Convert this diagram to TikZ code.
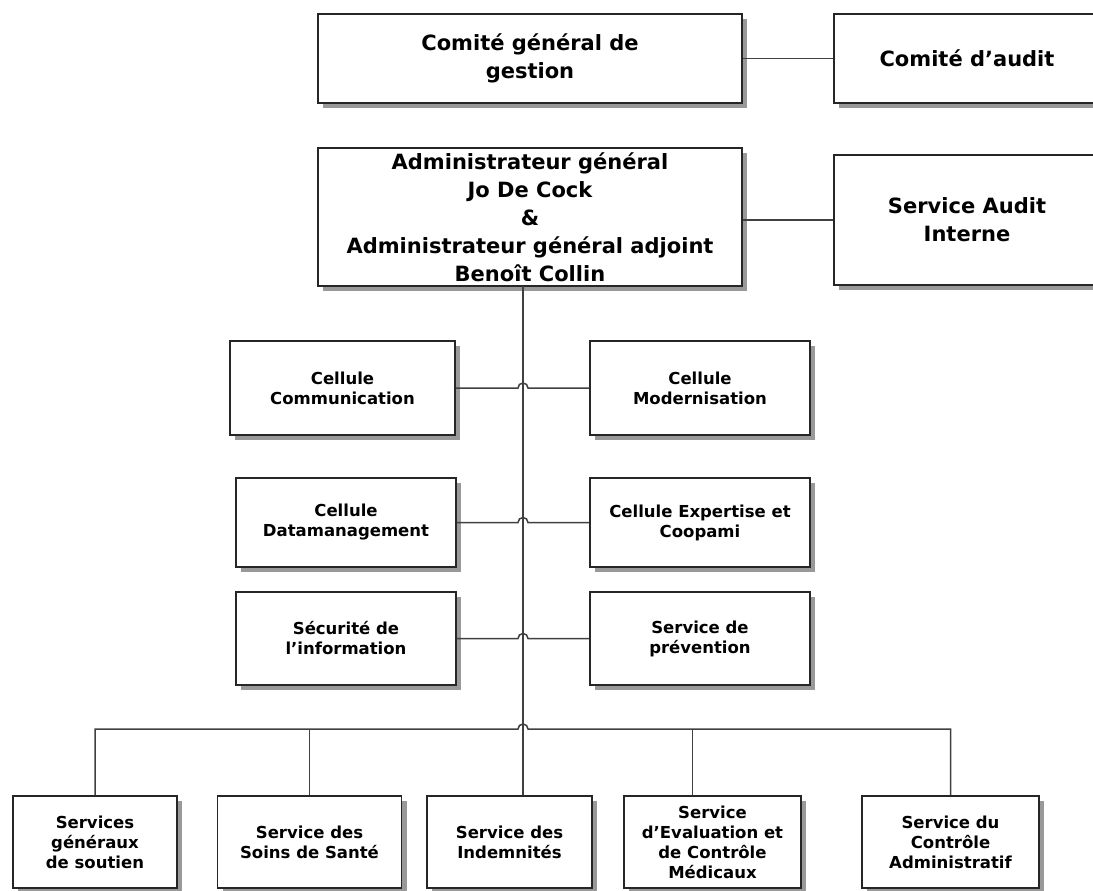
\documentclass[tikz,border=0pt]{standalone}
\usepackage{fontspec}
\setmainfont{DejaVu Sans}
\usetikzlibrary{shadows}
\begin{document}
\begin{tikzpicture}[x=1pt,y=1pt,
        box/.style={draw=black!85,line width=1.6pt,fill=white,align=center,inner sep=2pt,
            drop shadow={shadow xshift=5pt,shadow yshift=-5pt,fill=black!40,opacity=1}},
        big/.style={box,font=\bfseries\fontsize{21}{28}\selectfont},
        small/.style={box,font=\bfseries\fontsize{16.5}{20}\selectfont},
        link/.style={draw=black!75,line width=1.5pt}]
    \useasboundingbox (0,0) rectangle (1093,-891);
    % direction
    \node[big,minimum width=424,minimum height=89] (gestion) at (530,-58.5) {Comité général de\\gestion};
    \node[big,minimum width=266,minimum height=89] (audit) at (967,-58.5) {Comité d’audit};
    \node[big,minimum width=424,minimum height=138] (admin) at (530,-217)
        {Administrateur général\\Jo De Cock\\\&\\Administrateur général adjoint\\Benoît Collin};
    \node[big,minimum width=266,minimum height=130] (sai) at (967,-220) {Service Audit\\Interne};
    % cellules
    \node[small,minimum width=225,minimum height=94] (comm) at (342.5,-388) {Cellule\\Communication};
    \node[small,minimum width=220,minimum height=94] (modern) at (700,-388) {Cellule\\Modernisation};
    \node[small,minimum width=220,minimum height=89] (datam) at (346,-522.5) {Cellule\\Datamanagement};
    \node[small,minimum width=220,minimum height=89] (coopami) at (700,-522.5) {Cellule Expertise et\\Coopami};
    \node[small,minimum width=220,minimum height=93] (secu) at (346,-638.5) {Sécurité de\\l’information};
    \node[small,minimum width=220,minimum height=93] (prev) at (700,-638.5) {Service de\\prévention};
    % services
    \node[small,minimum width=164,minimum height=92] (sgs) at (95,-842) {Services\\généraux\\de soutien};
    \node[small,minimum width=184,minimum height=92] (soins) at (309.5,-842) {Service des\\Soins de Santé};
    \node[small,minimum width=165,minimum height=92] (indem) at (509.5,-842) {Service des\\Indemnités};
    \node[small,minimum width=177,minimum height=92] (eval) at (712.5,-842) {Service\\d’Evaluation et\\de Contrôle\\Médicaux};
    \node[small,minimum width=177,minimum height=92] (ctrl) at (950.5,-842) {Service du\\Contrôle\\Administratif};
    \coordinate (trunk) at (523,-286);
    \coordinate (bus) at (0,-729);
    % lines
    \draw[link] (gestion.east) -- (audit.west);
    \draw[link] (sai.west) -- (sai.west -| admin.east);
    \draw[link] (trunk) -- (trunk |- indem.north);
    \draw[link] (comm.east) -- ([xshift=-5pt]comm.east -| trunk) arc[start angle=180,end angle=0,radius=5] -- (modern.west);
    \draw[link] (datam.east) -- ([xshift=-5pt]datam.east -| trunk) arc[start angle=180,end angle=0,radius=5] -- (coopami.west);
    \draw[link] (secu.east) -- ([xshift=-5pt]secu.east -| trunk) arc[start angle=180,end angle=0,radius=5] -- (prev.west);
    \draw[link] (sgs.north) |- ([xshift=-5pt]trunk |- bus) arc[start angle=180,end angle=0,radius=5] -| (ctrl.north);
    \draw[link] (soins.north) -- (soins.north |- bus);
    \draw[link] ([xshift=-20pt]eval.north) -- ([xshift=-20pt]eval.north |- bus);
\end{tikzpicture}
\end{document}
